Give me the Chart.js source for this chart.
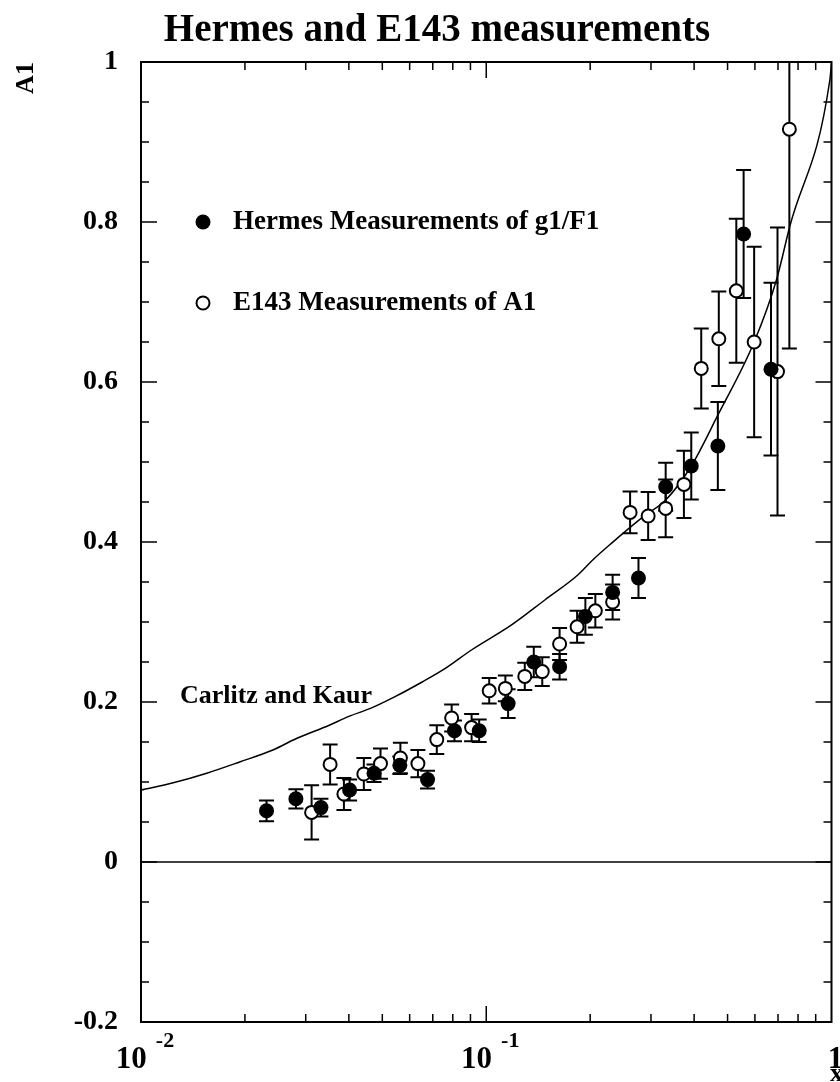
<!DOCTYPE html>
<html>
<head>
<meta charset="utf-8">
<script src="https://cdn.jsdelivr.net/npm/chart.js@4.4.0/dist/chart.umd.min.js"></script>
<style>
  html, body { margin: 0; padding: 0; background: #fff; }
  #wrap { width: 840px; height: 1082px; }
</style>
</head>
<body>
<div id="wrap"><canvas id="a1Chart" width="840" height="1082"></canvas></div>
<script>
'use strict'

// Hermes measurements of g1/F1 (filled markers)
const hermesX = [0.0231, 0.0281, 0.0332, 0.0402, 0.0473, 0.0562, 0.0676, 0.0809, 0.0954, 0.1157,
                 0.1373, 0.1631, 0.1937, 0.2323, 0.276, 0.3309, 0.3925, 0.4686, 0.5565, 0.668];
const hermesY = [0.064, 0.079, 0.068, 0.090, 0.111, 0.121, 0.103, 0.164, 0.164, 0.198,
                 0.250, 0.244, 0.307, 0.337, 0.355, 0.469, 0.495, 0.520, 0.785, 0.616];
const hermesErr = [0.013, 0.012, 0.011, 0.013, 0.011, 0.011, 0.011, 0.013, 0.014, 0.018,
                   0.019, 0.016, 0.023, 0.022, 0.025, 0.030, 0.042, 0.055, 0.080, 0.108];

// E143 measurements of A1 (open markers)
const e143X = [0.0312, 0.0353, 0.0387, 0.0442, 0.0494, 0.0564, 0.0634, 0.0719, 0.0794, 0.0907,
               0.102, 0.1136, 0.1293, 0.1453, 0.1631, 0.1833, 0.207, 0.2323, 0.261, 0.2944,
               0.3309, 0.3737, 0.4195, 0.4716, 0.530, 0.597, 0.6976, 0.755];
const e143Y = [0.062, 0.122, 0.085, 0.110, 0.123, 0.130, 0.123, 0.153, 0.180, 0.168,
               0.214, 0.217, 0.232, 0.238, 0.2725, 0.294, 0.314, 0.325, 0.437, 0.4325,
               0.442, 0.472, 0.617, 0.654, 0.714, 0.650, 0.613, 0.916];
const e143Err = [0.034, 0.025, 0.020, 0.020, 0.019, 0.019, 0.017, 0.018, 0.017, 0.017,
                 0.016, 0.016, 0.017, 0.018, 0.020, 0.020, 0.021, 0.022, 0.026, 0.030,
                 0.036, 0.042, 0.050, 0.059, 0.090, 0.119, 0.180, 0.274];

// Carlitz and Kaur prediction
const ckX = [0.01, 0.0124, 0.0155, 0.0193, 0.0241, 0.0281, 0.0351, 0.040, 0.0462, 0.0546,
             0.0652, 0.0761, 0.0906, 0.1181, 0.1478, 0.1845, 0.2034, 0.2299, 0.2856, 0.331,
             0.3925, 0.4666, 0.597, 0.6926, 0.7566, 0.989, 1.0];
const ckY = [0.090, 0.099, 0.111, 0.125, 0.140, 0.154, 0.171, 0.182, 0.192, 0.207,
             0.225, 0.242, 0.265, 0.296, 0.3275, 0.359, 0.3775, 0.398, 0.432, 0.4525,
             0.495, 0.557, 0.650, 0.7275, 0.794, 0.9775, 0.998];

const yTickValues = [-0.2, 0, 0.2, 0.4, 0.6, 0.8, 1];
const yTickLabels = ['-0.2', '0', '0.2', '0.4', '0.6', '0.8', '1'];
const xTickValues = [0.01, 0.1, 1];
const xTickBase = ['10', '10', '1'];
const xTickExp = ['-2', '-1', ''];

const FONT = '"Liberation Serif", "Times New Roman", serif';

function toPoints(xs, ys) {
    return xs.map((x, i) => ({ x: x, y: ys[i] }));
}

// error bars with small caps, drawn under the markers
const errorBars = {
    id: 'errorBars',
    beforeDatasetsDraw(chart) {
        const { ctx, chartArea: a } = chart;
        const xs = chart.scales.x, ys = chart.scales.y;
        ctx.save();
        ctx.beginPath();
        ctx.rect(a.left, a.top, a.right - a.left, a.bottom - a.top);
        ctx.clip();
        ctx.strokeStyle = '#000';
        ctx.lineWidth = 2;
        [[e143X, e143Y, e143Err], [hermesX, hermesY, hermesErr]].forEach(([vx, vy, ve]) => {
            vx.forEach((xv, i) => {
                const px = xs.getPixelForValue(xv);
                const lo = ys.getPixelForValue(vy[i] - ve[i]);
                const hi = ys.getPixelForValue(vy[i] + ve[i]);
                ctx.beginPath();
                ctx.moveTo(px, lo); ctx.lineTo(px, hi);
                ctx.moveTo(px - 7.5, lo); ctx.lineTo(px + 7.5, lo);
                ctx.moveTo(px - 7.5, hi); ctx.lineTo(px + 7.5, hi);
                ctx.stroke();
            });
        });
        ctx.restore();
    }
};

// frame, inward ticks, labels, title and legend
const frame = {
    id: 'frame',
    afterDraw(chart) {
        const { ctx, chartArea: a } = chart;
        const xs = chart.scales.x, ys = chart.scales.y;
        ctx.save();
        ctx.strokeStyle = '#000';
        ctx.fillStyle = '#000';

        // zero line
        const y0 = ys.getPixelForValue(0);
        ctx.lineWidth = 1.5;
        ctx.beginPath();
        ctx.moveTo(a.left, y0); ctx.lineTo(a.right, y0);
        ctx.stroke();

        // y ticks, both sides
        ctx.beginPath();
        for (let i = -4; i <= 20; i++) {
            const py = ys.getPixelForValue(i * 0.05);
            const len = (i % 4 === 0) ? 16 : 8;
            ctx.moveTo(a.left, py); ctx.lineTo(a.left + len, py);
            ctx.moveTo(a.right, py); ctx.lineTo(a.right - len, py);
        }
        // x ticks, top and bottom
        [0.01, 0.1].forEach(d => {
            for (let k = 1; k <= 9; k++) {
                const px = xs.getPixelForValue(k * d);
                const len = (k === 1) ? 16 : 8;
                ctx.moveTo(px, a.bottom); ctx.lineTo(px, a.bottom - len);
                ctx.moveTo(px, a.top); ctx.lineTo(px, a.top + len);
            }
        });
        ctx.stroke();

        // frame
        ctx.lineWidth = 2;
        ctx.strokeRect(a.left, a.top, a.right - a.left, a.bottom - a.top);

        // x tick labels 10^n
        ctx.textBaseline = 'alphabetic';
        ctx.textAlign = 'left';
        xTickValues.forEach((v, i) => {
            const px = xs.getPixelForValue(v);
            ctx.font = 'bold 31px ' + FONT;
            const wb = ctx.measureText(xTickBase[i]).width;
            ctx.font = 'bold 22px ' + FONT;
            const we = xTickExp[i] ? ctx.measureText(xTickExp[i]).width + 9 : 0;
            const left = px + 4 - (wb + we) / 2;
            ctx.font = 'bold 31px ' + FONT;
            ctx.fillText(xTickBase[i], left, 1068);
            if (xTickExp[i]) {
                ctx.font = 'bold 22px ' + FONT;
                ctx.fillText(xTickExp[i], left + wb + 9, 1047);
            }
        });

        // axis titles
        ctx.font = 'bold 26px ' + FONT;
        ctx.fillText('x', 830, 1081);
        ctx.save();
        ctx.translate(26, 78);
        ctx.rotate(-Math.PI / 2);
        ctx.textAlign = 'center';
        ctx.textBaseline = 'middle';
        ctx.fillText('A1', 0, 0);
        ctx.restore();

        // title
        ctx.font = 'bold 39px ' + FONT;
        ctx.textAlign = 'center';
        ctx.fillText('Hermes and E143 measurements', 437, 41);

        // legend
        ctx.textAlign = 'left';
        ctx.textBaseline = 'middle';
        ctx.font = 'bold 27px ' + FONT;
        ctx.beginPath();
        ctx.arc(203, 222, 7.5, 0, Math.PI * 2);
        ctx.fill();
        ctx.fillText('Hermes Measurements of g1/F1', 233, 222);
        ctx.beginPath();
        ctx.arc(203, 303, 6.5, 0, Math.PI * 2);
        ctx.lineWidth = 2;
        ctx.stroke();
        ctx.fillText('E143 Measurements of A1', 233, 303);

        // curve label
        ctx.font = 'bold 26px ' + FONT;
        ctx.textAlign = 'right';
        ctx.textBaseline = 'alphabetic';
        ctx.fillText('Carlitz and Kaur', 372, 703);

        ctx.restore();
    }
};

new Chart(document.getElementById('a1Chart').getContext('2d'), {
    type: 'scatter',
    data: {
        datasets: [
            {
                label: 'Carlitz and Kaur',
                data: toPoints(ckX, ckY),
                showLine: true,
                borderColor: '#000',
                borderWidth: 1.5,
                pointRadius: 0,
                fill: false,
                cubicInterpolationMode: 'monotone',
                order: 3
            },
            {
                label: 'E143 Measurements of A1',
                data: toPoints(e143X, e143Y),
                pointRadius: 6.5,
                pointBorderWidth: 2,
                pointBackgroundColor: '#fff',
                pointBorderColor: '#000',
                order: 2
            },
            {
                label: 'Hermes Measurements of g1/F1',
                data: toPoints(hermesX, hermesY),
                pointRadius: 7.5,
                pointBorderWidth: 0,
                pointBackgroundColor: '#000',
                pointBorderColor: '#000',
                order: 1
            }
        ]
    },
    options: {
        responsive: false,
        animation: false,
        devicePixelRatio: 1,
        events: [],
        layout: { padding: { top: 62, right: 5, left: 0, bottom: 0 } },
        plugins: {
            legend: { display: false },
            tooltip: { enabled: false },
            title: { display: false }
        },
        scales: {
            x: {
                type: 'logarithmic',
                min: 0.01,
                max: 1,
                grid: { display: false, drawTicks: false },
                border: { display: false },
                ticks: { display: false },
                afterFit: s => { s.height = 60; }
            },
            y: {
                type: 'linear',
                min: -0.2,
                max: 1,
                grid: { display: false, drawTicks: false },
                border: { display: false },
                afterBuildTicks: s => { s.ticks = yTickValues.map(v => ({ value: v })); },
                ticks: {
                    callback: v => yTickLabels[yTickValues.indexOf(v)],
                    color: '#000',
                    font: { family: FONT, size: 28, weight: 'bold' },
                    padding: 23
                },
                afterFit: s => { s.width = 141; }
            }
        }
    },
    plugins: [errorBars, frame]
});
</script>
</body>
</html>
